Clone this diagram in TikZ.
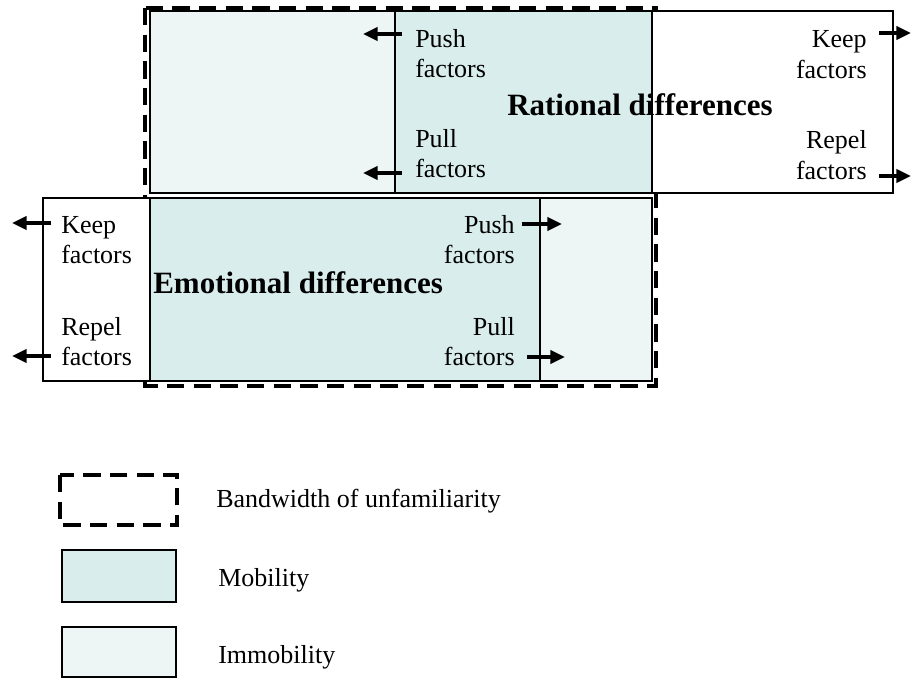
\documentclass[tikz,border=0pt]{standalone}
\usepackage{fontspec}
\setmainfont{Liberation Serif}
\usetikzlibrary{arrows.meta}
\definecolor{mob}{RGB}{217,237,237}
\definecolor{immob}{RGB}{238,246,245}
\begin{document}
\begin{tikzpicture}[x=0.75pt,y=-0.75pt,
  box/.style={draw=black,line width=1.3pt},
  band/.style={draw=black,line width=3.4pt,dash pattern=on 13pt off 7pt},
  lbl/.style={inner sep=0pt,font=\fontsize{19.5}{22}\selectfont},
  ttl/.style={inner sep=0pt,font=\fontsize{23.25}{26}\selectfont\bfseries},
  arr/.style={line width=2.5pt,-{Triangle[length=11pt,width=10pt]}}]
\useasboundingbox (0,0) rectangle (911,679);

% bandwidth of unfamiliarity
\draw[band] (145,8) rectangle (656,386);

% top row: rational differences
\draw[box,fill=white] (395,11) rectangle (893,193);
\draw[box,fill=mob] (395,11) rectangle (652,193);
\draw[box,fill=immob] (150,11) rectangle (395,193);

% bottom row: emotional differences
\draw[box,fill=white] (43,198) rectangle (150,381);
\draw[box,fill=mob] (150,198) rectangle (540,381);
\draw[box,fill=immob] (540,198) rectangle (652,381);

% titles
\node[ttl,anchor=base west] (rat) at (507,115) {Rational differences};
\node[ttl,anchor=base west] (emo) at (153,293) {Emotional differences};

% top-left labels
\node[lbl,anchor=base west] (tpush) at (415,47) {Push};
\node[lbl,anchor=base west] (tpushf) at (415,77) {factors};
\node[lbl,anchor=base west] (tpull) at (415,147) {Pull};
\node[lbl,anchor=base west] (tpullf) at (415,177) {factors};
% top-right labels
\node[lbl,anchor=base east] (tkeep) at (867,47) {Keep};
\node[lbl,anchor=base east] (tkeepf) at (867,78) {factors};
\node[lbl,anchor=base east] (trep) at (867,148) {Repel};
\node[lbl,anchor=base east] (trepf) at (867,179) {factors};
% bottom-left labels
\node[lbl,anchor=base west] (bkeep) at (61,233) {Keep};
\node[lbl,anchor=base west] (bkeepf) at (61,263) {factors};
\node[lbl,anchor=base west] (brep) at (61,335) {Repel};
\node[lbl,anchor=base west] (brepf) at (61,365) {factors};
% bottom-right labels
\node[lbl,anchor=base east] (bpush) at (515,233) {Push};
\node[lbl,anchor=base east] (bpushf) at (515,263) {factors};
\node[lbl,anchor=base east] (bpull) at (515,335) {Pull};
\node[lbl,anchor=base east] (bpullf) at (515,365) {factors};

% arrow end points
\coordinate (a1s) at (402,34);  \coordinate (a1e) at (363,34);
\coordinate (a2s) at (402,173); \coordinate (a2e) at (363,173);
\coordinate (a3s) at (879,33);  \coordinate (a3e) at (911,33);
\coordinate (a4s) at (879,176); \coordinate (a4e) at (911,176);
\coordinate (a5s) at (51,223);  \coordinate (a5e) at (12,223);
\coordinate (a6s) at (51,356);  \coordinate (a6e) at (12,356);
\coordinate (a7s) at (522,224); \coordinate (a7e) at (562,224);
\coordinate (a8s) at (527,357); \coordinate (a8e) at (565,357);
\draw[arr] (a1s) -- (a1e);
\draw[arr] (a2s) -- (a2e);
\draw[arr] (a3s) -- (a3e);
\draw[arr] (a4s) -- (a4e);
\draw[arr] (a5s) -- (a5e);
\draw[arr] (a6s) -- (a6e);
\draw[arr] (a7s) -- (a7e);
\draw[arr] (a8s) -- (a8e);

% legend
\draw[band] (60,475) rectangle (177,525);
\draw[box,fill=mob] (62,550) rectangle (176,602);
\draw[box,fill=immob] (62,627) rectangle (176,677);
\node[lbl,anchor=base west] (lband) at (216,507) {Bandwidth of unfamiliarity};
\node[lbl,anchor=base west] (lmob) at (218,586) {Mobility};
\node[lbl,anchor=base west] (limm) at (218,663) {Immobility};
\end{tikzpicture}
\end{document}
